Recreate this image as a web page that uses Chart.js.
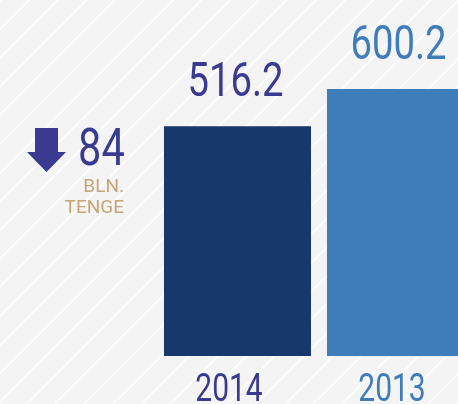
<!DOCTYPE html>
<html>
<head>
<meta charset="utf-8">
<script src="https://cdn.jsdelivr.net/npm/chart.js@4/dist/chart.umd.min.js"></script>
<style>
  html, body { margin: 0; padding: 0; width: 458px; height: 404px; overflow: hidden; }
  body {
    background: repeating-linear-gradient(135deg,
      #fbfbfb 0px, #fbfbfb 1.6px,
      #f4f4f4 1.6px, #f4f4f4 19.7px,
      #fbfbfb 19.7px, #fbfbfb 20.27px);
  }
  #wrap { position: absolute; left: 0; top: 0; width: 490px; height: 404px; }
</style>
</head>
<body>
<div id="wrap"><canvas id="chart"></canvas></div>
<script>
// Revenue by year, bln. tenge
const years = ['2014', '2013'];
const revenue = [516.2, 600.2];
const barColors = ['#16386b', '#3e7dba'];
const textColors = ['#3a3b90', '#3e7dba'];
const unitLines = ['BLN.', 'TENGE'];

// Condensed numerals: Roboto squeezed horizontally
function narrowText(ctx, text, x, y, size, squeeze, align) {
  ctx.save();
  ctx.font = '400 ' + size + 'px Roboto, sans-serif';
  ctx.textBaseline = 'alphabetic';
  ctx.textAlign = align;
  ctx.translate(x, y);
  ctx.scale(squeeze, 1);
  ctx.fillText(text, 0, 0);
  ctx.restore();
}

const labelsPlugin = {
  id: 'valueLabels',
  afterDatasetsDraw(chart) {
    const ctx = chart.ctx;
    const meta = chart.getDatasetMeta(0);
    const xScale = chart.scales.x;
    const bottom = chart.chartArea.bottom;

    meta.data.forEach((bar, i) => {
      ctx.fillStyle = textColors[i];
      // value above the bar
      narrowText(ctx, revenue[i].toFixed(1), bar.x - 2, bar.y - 30, 49, 0.78, 'center');
      // year under the bar
      narrowText(ctx, years[i], xScale.getPixelForValue(i) - 8.5, bottom + 45, 39.5, 0.76, 'center');
    });

    // change between the two years
    const diff = Math.abs(revenue[1] - revenue[0]);
    ctx.save();
    ctx.fillStyle = textColors[0];
    ctx.beginPath();
    ctx.rect(35, 128, 23, 24);
    ctx.moveTo(27, 152);
    ctx.lineTo(66, 152);
    ctx.lineTo(46.5, 172);
    ctx.closePath();
    ctx.fill();
    ctx.restore();

    ctx.fillStyle = textColors[0];
    narrowText(ctx, Math.round(diff).toString(), 78, 165, 52, 0.8, 'left');

    ctx.save();
    ctx.font = '19px Roboto, sans-serif';
    ctx.textAlign = 'right';
    ctx.textBaseline = 'alphabetic';
    ctx.fillStyle = '#c6a676';
    ctx.fillText(unitLines[0], 124, 192);
    ctx.fillText(unitLines[1], 124, 213);
    ctx.restore();
  }
};

new Chart(document.getElementById('chart'), {
  type: 'bar',
  data: {
    labels: years,
    datasets: [{
      data: revenue,
      backgroundColor: barColors,
      borderWidth: 0,
      barPercentage: 0.902,
      categoryPercentage: 1
    }]
  },
  options: {
    responsive: true,
    maintainAspectRatio: false,
    animation: false,
    events: [],
    layout: { padding: { left: 156, right: 8, top: 0, bottom: 48 } },
    plugins: { legend: { display: false }, tooltip: { enabled: false } },
    scales: {
      x: {
        grid: { display: false, drawTicks: false },
        border: { display: false },
        ticks: { display: false }
      },
      y: {
        display: false,
        min: 0,
        max: 800
      }
    }
  },
  plugins: [labelsPlugin]
});
</script>
</body>
</html>
